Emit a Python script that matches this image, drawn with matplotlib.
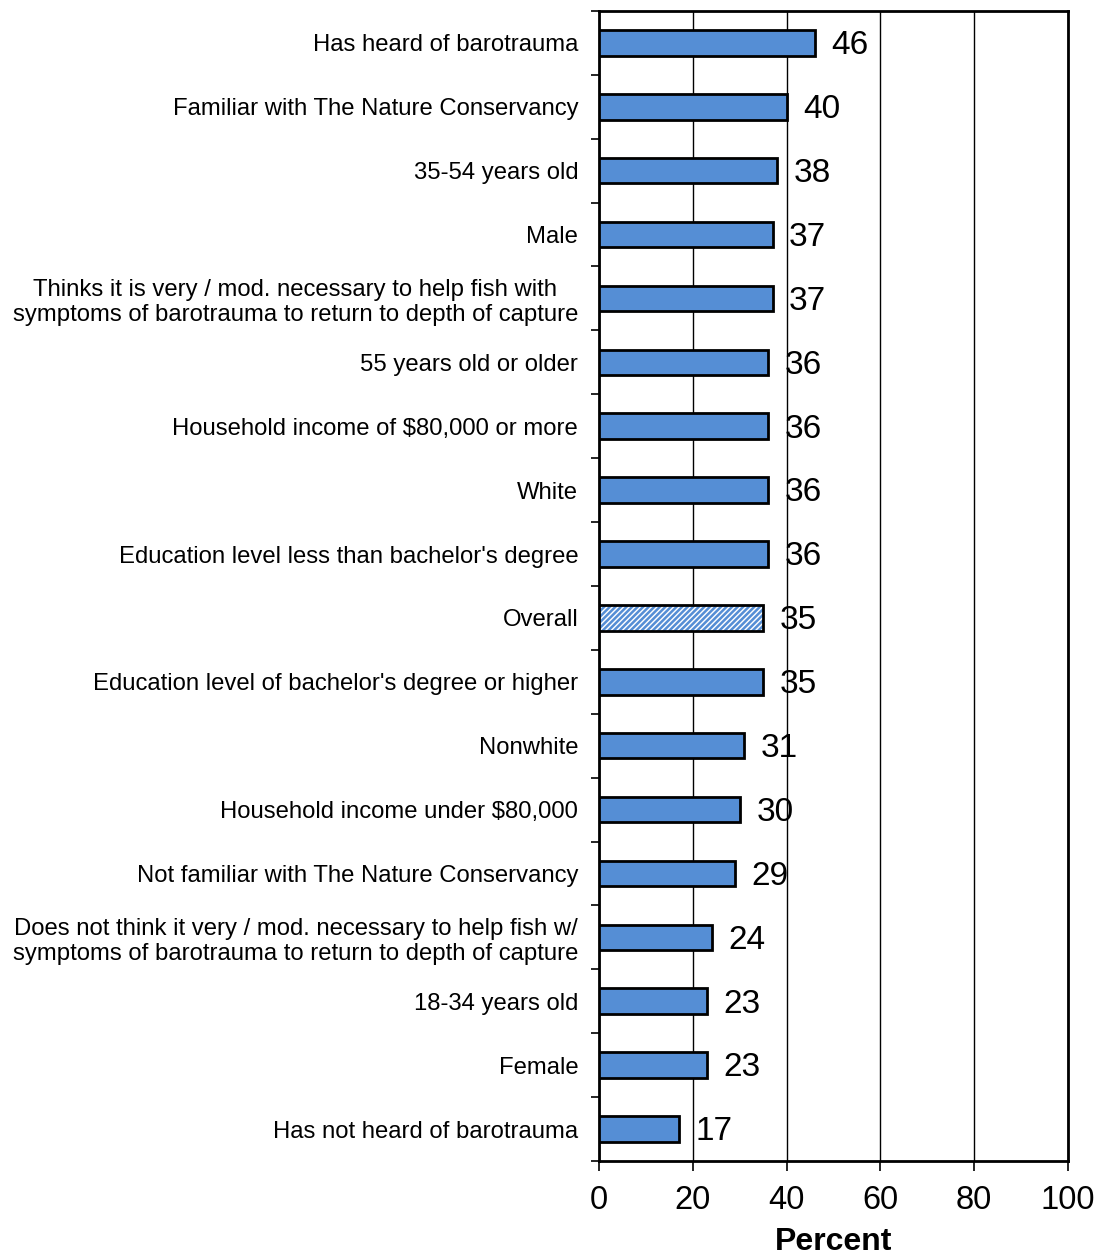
import matplotlib
matplotlib.use("Agg")
import matplotlib.pyplot as plt
import numpy as np

categories = [
    "Has heard of barotrauma",
    "Familiar with The Nature Conservancy",
    "35-54 years old",
    "Male",
    "Thinks it is very / mod. necessary to help fish with\nsymptoms of barotrauma to return to depth of capture",
    "55 years old or older",
    "Household income of $80,000 or more",
    "White",
    "Education level less than bachelor's degree",
    "Overall",
    "Education level of bachelor's degree or higher",
    "Nonwhite",
    "Household income under $80,000",
    "Not familiar with The Nature Conservancy",
    "Does not think it very / mod. necessary to help fish w/\nsymptoms of barotrauma to return to depth of capture",
    "18-34 years old",
    "Female",
    "Has not heard of barotrauma",
]
values = [46, 40, 38, 37, 37, 36, 36, 36, 36, 35, 35, 31, 30, 29, 24, 23, 23, 17]
x_ticks = [0, 20, 40, 60, 80, 100]
highlight = "Overall"

plt.rcParams["font.family"] = ["Liberation Sans", "DejaVu Sans"]
plt.rcParams["hatch.linewidth"] = 1.8

blue = "#558ED5"
n = len(categories)
ypos = np.arange(n)[::-1]

fig = plt.figure(figsize=(10.98, 12.57), dpi=100)
ax = fig.add_axes([0.5455, 0.0764, 0.4272, 0.9149])

for y, cat, v in zip(ypos, categories, values):
    if cat == highlight:
        ax.barh(y, v, height=0.4, color="white", edgecolor=blue,
                hatch="//////", linewidth=0, zorder=3)
        ax.barh(y, v, height=0.4, fill=False, edgecolor="black",
                linewidth=2, zorder=4)
    else:
        ax.barh(y, v, height=0.4, color=blue, edgecolor="black",
                linewidth=2, zorder=3)
    ax.annotate(f"{v}", xy=(v, y), xytext=(12, -2), textcoords="offset points",
                ha="left", va="center", fontsize=24, zorder=5)

ax.set_xlim(0, 100)
ax.set_ylim(-0.5, n - 0.5)
ax.set_xticks(x_ticks)
ax.set_xticklabels([str(t) for t in x_ticks], fontsize=23.5)
ax.tick_params(axis="x", direction="out", length=7, width=1.2, pad=10)

# category labels centred on bars, tick marks on row boundaries
ax.set_yticks(np.arange(-0.5, n, 1.0))
ax.set_yticklabels([])
ax.tick_params(axis="y", which="major", direction="out", length=6, width=1.2)
ax.set_yticks(ypos, minor=True)
ax.set_yticklabels(categories, minor=True, fontsize=17.2,
                   multialignment="center", linespacing=1.2)
ax.tick_params(axis="y", which="minor", length=0, pad=15)

ax.xaxis.grid(True, color="black", linewidth=1.0, zorder=0)
ax.set_axisbelow(True)
for s in ax.spines.values():
    s.set_linewidth(2)
    s.set_color("black")

ax.set_xlabel("Percent", fontsize=23, fontweight="bold", labelpad=8)

fig.savefig("out.png", dpi=100)
